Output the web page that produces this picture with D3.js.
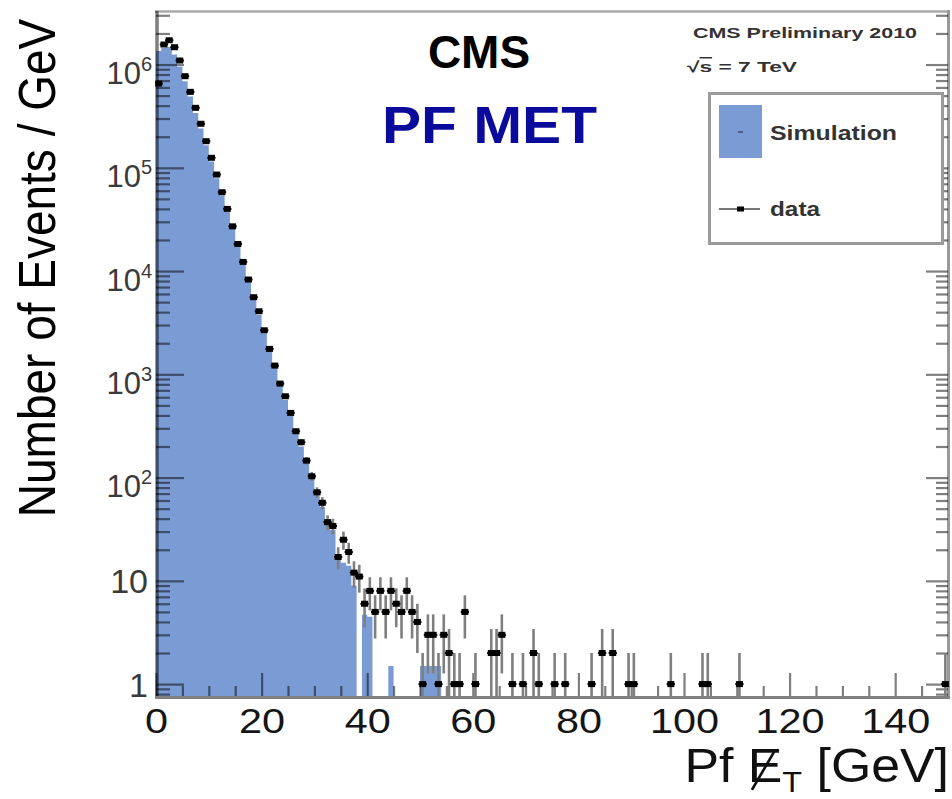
<!DOCTYPE html>
<html><head><meta charset="utf-8">
<script src="https://cdn.jsdelivr.net/npm/d3@7"></script>
<style>body{margin:0;background:#fff}svg{display:block}</style>
</head><body>
<svg id="c" width="952" height="799"></svg>
<script>
// ---- data ----
// simulation histogram, 1 GeV bins starting at 0
const simCounts = [1350000,1450000,1480000,1250000,950000,690000,490000,340000,240000,165000,
  115000,79000,54000,37500,25500,17300,11700,7900,5300,3750,
  2500,1680,1150,780,565,400,270,200,140,97,
  68,52,37,31,17,15,14,9,0,4.7,
  4.5,0,0,0,1.5,0,0,0,0,0,
  1.5,1.5,1.5,1.5];
// data points: bin centres and counts
const dataCenters = [0.5,1.5,2.5,3.5,4.5,5.5,6.5,7.5,8.5,9.5,
  10.5,11.5,12.5,13.5,14.5,15.5,16.5,17.5,18.5,19.5,
  20.5,21.5,22.5,23.5,24.5,25.5,26.5,27.5,28.5,29.5,
  30.5,31.5,32.5,33.5,34.5,35.5,36.5,37.5,38.5,39.5,
  40.5,41.5,42.5,43.5,44.5,45.5,46.5,47.5,48.5,49.5,
  50.5,51.5,52.5,53.5,54.5,55.5,56.5,57.5,58.5,60.5,
  63.5,64.5,65.5,67.5,69.5,71.5,72.5,75.5,77.5,82.5,
  84.5,86.5,89.5,90.5,97.5,103.5,104.5,110.5,149.5];
const dataCounts = [654000,1563000,1718000,1471000,1094000,771000,544000,381000,267000,181000,
  125000,86000,58000,40000,27100,18300,12270,8280,5580,4080,
  2670,1763,1215,813,613,423,281,220,146,103,
  72,57,37,34,17,25,19,12,11,6,
  8,5,8,5,8,6,5,8,5,4,
  1,3,3,1,3,2,1,1,5,1,
  2,2,3,1,1,2,1,1,1,1,
  2,2,1,1,1,1,1,1,1];
const xTicksMajor = [0,20,40,60,80,100,120,140];
const xTicksMinor = [5,10,15,25,30,35,45,50,55,65,70,75,85,90,95,105,110,115,125,130,135,145];
const yTicksMajor = [1,10,100,1000,10000,100000,1000000];
const yLabelBase = ["1","10","10","10","10","10","10"];
const yLabelExp  = ["","","2","3","4","5","6"];

// ---- layout ----
const FONT = "'Liberation Sans', Arial, Helvetica, sans-serif";
const SX = 1.15; // horizontal stretch of the reference's lettering
const svg = d3.select("#c").style("font-family", FONT);
const x = d3.scaleLinear().domain([0,150]).range([156,948]);
const y = d3.scaleLog().domain([0.75,3.3e6]).range([697,11]);
const yBottom = y.range()[0];
const yv = v => v > y.domain()[0] ? y(v) : yBottom;

svg.append("defs").append("clipPath").attr("id","plot")
  .append("rect").attr("x",156).attr("y",11).attr("width",792).attr("height",686);

// simulation fill
const simPts = simCounts.map((v,i)=>({e:i, v}));
simPts.push({e:simCounts.length, v:0});
const area = d3.area().x(d=>x(d.e)).y0(yBottom).y1(d=>yv(d.v)).curve(d3.curveStepAfter);
svg.append("path").datum(simPts).attr("clip-path","url(#plot)")
  .attr("fill","#7b9bd4").attr("d",area);

// frame top / right
svg.append("line").attr("x1",155).attr("x2",950).attr("y1",11.5).attr("y2",11.5)
  .attr("stroke","#aaa").attr("stroke-width",2.5);
svg.append("line").attr("x1",948.5).attr("x2",948.5).attr("y1",10).attr("y2",698)
  .attr("stroke","#999").attr("stroke-width",3);

function styleTicks(g){
  g.select(".domain").remove();
  g.selectAll(".tick line").attr("stroke","#000").attr("stroke-opacity",0.5).attr("stroke-width",2.2);
}
const yMinor = y.ticks().filter(t => !yTicksMajor.includes(t));

// left axis
svg.append("g").attr("transform","translate(156,0)")
  .call(d3.axisLeft(y).tickValues(yMinor).tickSize(-14).tickFormat("")).call(styleTicks);
const gLM = svg.append("g").attr("transform","translate(156,0)")
  .call(d3.axisLeft(y).tickValues(yTicksMajor).tickSize(-28).tickFormat("")).call(styleTicks);
// right axis
svg.append("g").attr("transform","translate(948,0)")
  .call(d3.axisRight(y).tickValues(yMinor).tickSize(-12).tickFormat("")).call(styleTicks);
svg.append("g").attr("transform","translate(948,0)")
  .call(d3.axisRight(y).tickValues(yTicksMajor).tickSize(-22).tickFormat("")).call(styleTicks);
// bottom axis
svg.append("g").attr("transform","translate(0,697)")
  .call(d3.axisBottom(x).tickValues(xTicksMinor).tickSize(-11).tickFormat("")).call(styleTicks);
const gB = svg.append("g").attr("transform","translate(0,697)")
  .call(d3.axisBottom(x).tickValues(xTicksMajor).tickSize(-24).tickFormat(d3.format("d"))).call(styleTicks);
gB.selectAll(".tick text").attr("y",36).attr("dy",0)
  .attr("font-size",36).attr("font-family",FONT).attr("fill","#151515")
  .attr("transform",`scale(${SX},1)`);

// y labels with superscripts
gLM.selectAll(".tick").each(function(d,i){
  const g = d3.select(this);
  const t = g.append("text").attr("text-anchor","end").attr("fill","#3a3a3a")
    .attr("font-family",FONT);
  if (yLabelExp[i] === "") {
    t.attr("x",-8).attr("y",12).attr("font-size",34).text(yLabelBase[i]);
  } else {
    t.attr("x",-4).attr("y",19);
    t.append("tspan").attr("font-size",31).text(yLabelBase[i]);
    t.append("tspan").attr("font-size",20).attr("dy",-13).text(yLabelExp[i]);
  }
});

// axis lines
svg.append("line").attr("x1",157).attr("x2",157).attr("y1",11).attr("y2",697)
  .attr("stroke","#000").attr("stroke-opacity",0.5).attr("stroke-width",3.5);
svg.append("line").attr("x1",155).attr("x2",950).attr("y1",697.5).attr("y2",697.5)
  .attr("stroke","#808080").attr("stroke-width",3);

// data points
const pts = dataCenters.map((c,i)=>({c, v:dataCounts[i]}));
const gP = svg.append("g").attr("clip-path","url(#plot)");
gP.selectAll("line.err").data(pts).join("line").attr("class","err")
  .attr("x1",d=>x(d.c)).attr("x2",d=>x(d.c))
  .attr("y1",d=>yv(d.v+Math.sqrt(d.v))).attr("y2",d=>yv(d.v-Math.sqrt(d.v)))
  .attr("stroke","#7f7f7f").attr("stroke-width",2.6);
gP.selectAll("line.hb").data(pts).join("line").attr("class","hb")
  .attr("x1",d=>x(d.c-0.5)-1.5).attr("x2",d=>x(d.c+0.5)+1.5)
  .attr("y1",d=>y(d.v)).attr("y2",d=>y(d.v))
  .attr("stroke","#000").attr("stroke-width",2);
svg.selectAll("rect.pt").data(pts).join("rect").attr("class","pt")
  .attr("x",d=>x(d.c)-3.5).attr("y",d=>y(d.v)-3).attr("width",7).attr("height",6)
  .attr("fill","#000");

// titles
svg.append("text").attr("transform","translate(55,268) scale(1.12,1) rotate(-90)")
  .attr("text-anchor","middle").attr("font-size",46).attr("fill","#000")
  .text("Number of Events / GeV");

const gX = svg.append("g").attr("transform",`translate(949,782) scale(1.08,1)`);
const tX = gX.append("text").attr("text-anchor","end").attr("font-size",48).attr("fill","#111");
tX.append("tspan").text("Pf ");
tX.append("tspan").text("E");
tX.append("tspan").attr("font-size",30).attr("dy",10).text("T");
tX.append("tspan").attr("dy",-10).text(" [GeV]");
const ext = tX.node().getExtentOfChar(3);
gX.append("line")
  .attr("x1",ext.x+ext.width*0.12).attr("y1",ext.y+ext.height*0.95)
  .attr("x2",ext.x+ext.width*0.8).attr("y2",ext.y+ext.height*0.2)
  .attr("stroke","#111").attr("stroke-width",2.5);

svg.append("text").attr("x",479).attr("y",68).attr("text-anchor","middle")
  .attr("font-size",46).attr("font-weight","bold").attr("fill","#000").text("CMS");
svg.append("text").attr("x",382).attr("y",143).attr("font-size",52).attr("font-weight","bold")
  .attr("fill","#0a0a9c").attr("textLength",215).attr("lengthAdjust","spacingAndGlyphs").text("PF MET");

svg.append("text").attr("x",693).attr("y",38).attr("font-size",14).attr("font-weight","bold")
  .attr("fill","#333").attr("textLength",224).attr("lengthAdjust","spacingAndGlyphs").text("CMS Preliminary 2010");
const tS = svg.append("text").attr("x",687).attr("y",72).attr("font-size",15).attr("font-weight","bold")
  .attr("fill","#333").attr("textLength",110).attr("lengthAdjust","spacingAndGlyphs");
tS.append("tspan").text("\u221A");
tS.append("tspan").style("text-decoration","overline").text("s");
tS.append("tspan").text(" = 7 TeV");

// legend
svg.append("rect").attr("x",709.5).attr("y",93.5).attr("width",233).attr("height",150)
  .attr("fill","#fff").attr("stroke","#9a9a9a").attr("stroke-width",3);
svg.append("rect").attr("x",719).attr("y",105).attr("width",43).attr("height",53).attr("fill","#7b9bd4");
svg.append("rect").attr("x",738).attr("y",131).attr("width",5).attr("height",2).attr("fill","#4a5f8a");
svg.append("text").attr("x",770).attr("y",140).attr("font-size",20).attr("font-weight","bold")
  .attr("fill","#333").attr("textLength",127).attr("lengthAdjust","spacingAndGlyphs").text("Simulation");
svg.append("line").attr("x1",719).attr("x2",760).attr("y1",209).attr("y2",209)
  .attr("stroke","#777").attr("stroke-width",2);
svg.append("rect").attr("x",737).attr("y",206.5).attr("width",7).attr("height",5).attr("fill","#000");
svg.append("text").attr("x",770).attr("y",216).attr("font-size",20).attr("font-weight","bold")
  .attr("fill","#333").attr("textLength",50).attr("lengthAdjust","spacingAndGlyphs").text("data");
</script>
</body></html>
